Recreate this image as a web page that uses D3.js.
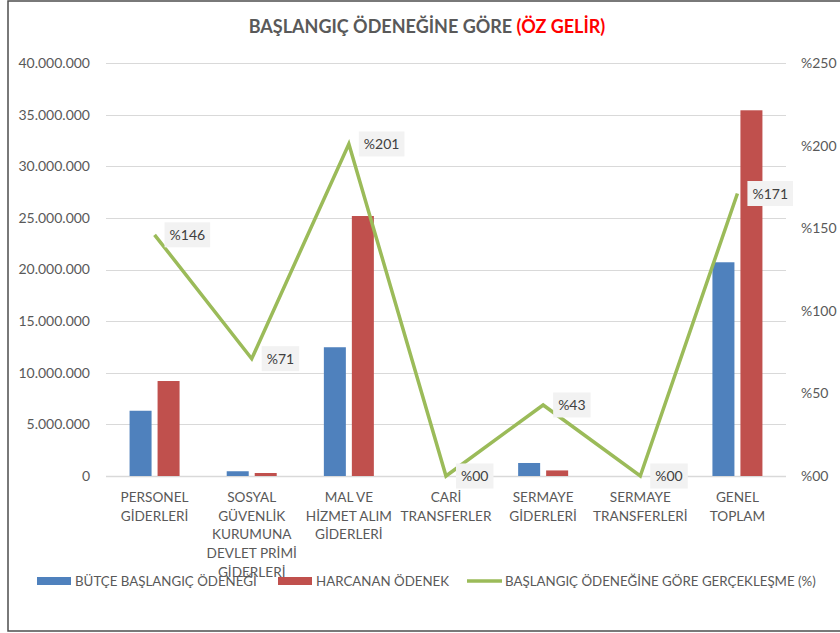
<!DOCTYPE html>
<html><head><meta charset="utf-8">
<script src="https://cdn.jsdelivr.net/npm/d3@7"></script>
<style>body{margin:0;background:#fff}svg{display:block}text{font-family:Lato,"Open Sans",sans-serif}</style>
</head><body>
<svg id="c" width="840" height="633"></svg>
<script>
const categories = [
  ["PERSONEL","GİDERLERİ"],
  ["SOSYAL","GÜVENLİK","KURUMUNA","DEVLET PRİMİ","GİDERLERİ"],
  ["MAL VE","HİZMET ALIM","GİDERLERİ"],
  ["CARİ","TRANSFERLER"],
  ["SERMAYE","GİDERLERİ"],
  ["SERMAYE","TRANSFERLERİ"],
  ["GENEL","TOPLAM"]
];
const budget = [6320000, 460000, 12470000, 0, 1260000, 0, 20700000];
const spent = [9200000, 290000, 25180000, 0, 540000, 0, 35420000];
const ratio = [146, 71, 201, 0, 43, 0, 171];
const ratioLabels = ["%146","%71","%201","%00","%43","%00","%171"];
const leftTicks = [0,5000000,10000000,15000000,20000000,25000000,30000000,35000000,40000000];
const rightTicks = [0,50,100,150,200,250];
const seriesNames = ["BÜTÇE BAŞLANGIÇ ÖDENEĞİ","HARCANAN ÖDENEK","BAŞLANGIÇ ÖDENEĞİNE GÖRE GERÇEKLEŞME (%)"];

const svg = d3.select("#c");
const L = 106, R = 786, T = 63, B = 476;
const x = d3.scaleBand().domain(d3.range(categories.length)).range([L, R]);
const y = d3.scaleLinear().domain([0, 40000000]).range([B, T]);
const y2 = d3.scaleLinear().domain([0, 250]).range([B, T]);
const fmt = v => v === 0 ? "0" : d3.format(",")(v).replace(/,/g, ".");
const fmt2 = v => "%" + (v === 0 ? "00" : v);

// frame
svg.append("rect").attr("x", 8).attr("y", 1).attr("width", 840).attr("height", 630)
  .attr("fill", "none").attr("stroke", "#4d4d4d").attr("stroke-width", 1.5);

// title
const title = svg.append("text").attr("x", 427).attr("y", 33).attr("text-anchor", "middle")
  .attr("font-size", 18).attr("font-weight", "bold").attr("fill", "#595959");
title.append("tspan").text("BAŞLANGIÇ ÖDENEĞİNE GÖRE ");
title.append("tspan").attr("fill", "#ff0000").text("(ÖZ GELİR)");

// grid
svg.append("g").selectAll("line").data(leftTicks).join("line")
  .attr("x1", L).attr("x2", R).attr("y1", d => Math.round(y(d)) + 0.5).attr("y2", d => Math.round(y(d)) + 0.5)
  .attr("stroke", "#d9d9d9").attr("stroke-width", d => d === 0 ? 1.5 : 1);

// left axis
const ga = svg.append("g").attr("transform", `translate(${L},0)`)
  .call(d3.axisLeft(y).tickValues(leftTicks).tickFormat(fmt).tickSize(0).tickPadding(16));
ga.select(".domain").remove();
ga.selectAll("text").attr("font-size", 14).attr("fill", "#595959").attr("font-family", "Lato");

// right axis
const gb = svg.append("g").attr("transform", `translate(${R},0)`)
  .call(d3.axisRight(y2).tickValues(rightTicks).tickFormat(fmt2).tickSize(0).tickPadding(15));
gb.select(".domain").remove();
gb.selectAll("text").attr("font-size", 14).attr("fill", "#595959").attr("font-family", "Lato");

// bars
const bw = 22, gap = 6;
const bars = svg.append("g");
bars.selectAll(".b1").data(budget).join("rect")
  .attr("x", (d, i) => x(i) + x.bandwidth() / 2 - gap / 2 - bw)
  .attr("y", d => y(d)).attr("width", bw).attr("height", d => B - y(d)).attr("fill", "#4f81bd");
bars.selectAll(".b2").data(spent).join("rect")
  .attr("x", (d, i) => x(i) + x.bandwidth() / 2 + gap / 2)
  .attr("y", d => y(d)).attr("width", bw).attr("height", d => B - y(d)).attr("fill", "#c0504d");

// line
const line = d3.line().x((d, i) => x(i) + x.bandwidth() / 2).y(d => y2(d));
svg.append("path").datum(ratio).attr("d", line).attr("fill", "none")
  .attr("stroke", "#9bbb59").attr("stroke-width", 3.5).attr("stroke-linejoin", "miter");

// data labels
const lg = svg.append("g");
ratio.forEach((d, i) => {
  const px = x(i) + x.bandwidth() / 2 + 10, py = y2(d);
  const g = lg.append("g");
  const r = g.append("rect").attr("fill", "#f2f2f2");
  const t = g.append("text").attr("x", px + 5).attr("y", py + 5).attr("font-size", 14)
    .attr("fill", "#404040").text(ratioLabels[i]);
  const w = t.node().getComputedTextLength();
  r.attr("x", px).attr("y", py - 12.5).attr("width", w + 10).attr("height", 25);
});

// x labels
const xl = svg.append("g");
categories.forEach((lines, i) => {
  const t = xl.append("text").attr("text-anchor", "middle").attr("font-size", 13.6).attr("fill", "#595959");
  lines.forEach((s, j) => {
    t.append("tspan").attr("x", x(i) + x.bandwidth() / 2).attr("y", 502 + j * 18.7).text(s);
  });
});

// legend
const leg = svg.append("g");
const legItems = [
  {x: 37, type: "rect", color: "#4f81bd"},
  {x: 278, type: "rect", color: "#c0504d"},
  {x: 467, type: "line", color: "#9bbb59"}
];
legItems.forEach((it, i) => {
  if (it.type === "rect") {
    leg.append("rect").attr("x", it.x).attr("y", 577).attr("width", 34).attr("height", 8).attr("fill", it.color);
  } else {
    leg.append("line").attr("x1", it.x).attr("x2", it.x + 35).attr("y1", 581).attr("y2", 581)
      .attr("stroke", it.color).attr("stroke-width", 3.5);
  }
  leg.append("text").attr("x", it.x + 38).attr("y", 586).attr("font-size", 13.3).attr("fill", "#595959").text(seriesNames[i]);
});
</script>
</body></html>
